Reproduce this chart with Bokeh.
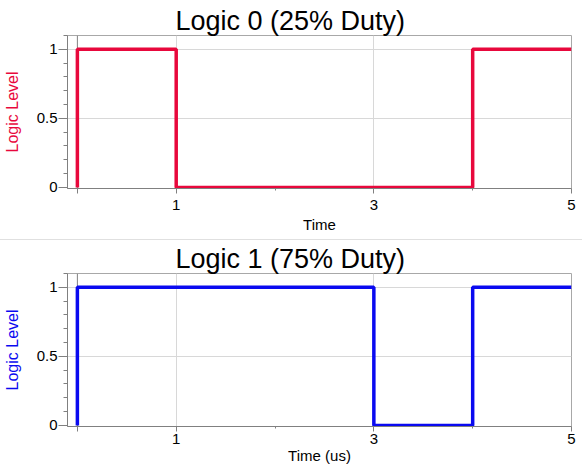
from bokeh.plotting import figure
from bokeh.layouts import column
from bokeh.models import FixedTicker, Span, Div
from bokeh.embed import file_html
from bokeh.resources import INLINE

# Data
t0 = [0, 0, 1, 1, 4, 4, 5]
v0 = [0, 1, 1, 0, 0, 1, 1]
t1 = [0, 0, 3, 3, 4, 4, 5]
v1 = [0, 1, 1, 0, 0, 1, 1]
titles = ["Logic 0 (25% Duty)", "Logic 1 (75% Duty)"]
xlabels = ["Time", "Time (us)"]
ylabel = "Logic Level"
colors = ["#e8083c", "#0a0af0"]

FONT = "Liberation Sans"


def make_fig(t, v, title, xlabel, color, height, top, bottom, tick_standoff, label_standoff):
    p = figure(width=582, height=height, output_backend="svg", toolbar_location=None,
               x_range=(-0.1, 5), y_range=(-0.008, 1.1),
               min_border_left=67, min_border_right=11,
               min_border_top=top, min_border_bottom=bottom)
    p.title.text = title
    p.title.align = "left"
    p.title.offset = 108
    p.title.text_font = FONT
    p.title.text_font_size = "27px"
    p.title.text_font_style = "normal"
    p.title.text_color = "#000000"
    p.title.standoff = 0
    p.outline_line_color = "#a8a8a8"
    p.outline_line_width = 1

    p.xaxis.ticker = FixedTicker(ticks=[0, 1, 3, 5], minor_ticks=[2, 4])
    p.xaxis.major_label_overrides = {0: ""}
    p.yaxis.ticker = FixedTicker(ticks=[0, 0.5, 1],
                                 minor_ticks=[0.1, 0.2, 0.3, 0.4, 0.6, 0.7, 0.8, 0.9, 1.1])
    p.yaxis.major_label_overrides = {0: "0", 0.5: "0.5", 1: "1"}
    for ax in (p.xaxis[0], p.yaxis[0]):
        ax.axis_line_color = "#808080"
        ax.major_tick_line_color = "#808080"
        ax.minor_tick_line_color = "#808080"
        ax.major_tick_in = 0
        ax.minor_tick_in = 0
        ax.major_label_text_font = FONT
        ax.major_label_text_font_size = "15px"
        ax.major_label_text_color = "#000000"
        ax.axis_label_text_font = FONT
        ax.axis_label_text_font_size = "15px"
        ax.axis_label_text_font_style = "normal"
    p.yaxis.axis_label_text_font_size = "16px"
    p.xaxis.major_tick_out = 5
    p.xaxis.minor_tick_out = 2
    p.yaxis.major_tick_out = 9
    p.yaxis.minor_tick_out = 4
    p.yaxis.major_label_standoff = 1
    p.xaxis.axis_label = xlabel
    p.xaxis.axis_label_text_color = "#000000"
    p.xaxis.axis_label_standoff = label_standoff
    p.xaxis.major_label_standoff = tick_standoff
    p.yaxis.axis_label = ylabel
    p.yaxis.axis_label_text_color = color
    p.yaxis.axis_label_standoff = 13

    p.xgrid.ticker = FixedTicker(ticks=[1, 3])
    p.ygrid.ticker = FixedTicker(ticks=[0.5, 1])
    p.xgrid.grid_line_color = "#d8d8d8"
    p.ygrid.grid_line_color = "#d8d8d8"
    p.add_layout(Span(location=0, dimension="height", line_color="#808080",
                      line_width=1, level="underlay"))

    p.line(t, v, line_color=color, line_width=3.5)
    return p


p1 = make_fig(t0, v0, titles[0], xlabels[0], colors[0], 239, 35, 51, 6, 3)
sep = Div(text="", width=582, height=1, margin=0, styles={"background-color": "#e0e0e0"})
p2 = make_fig(t1, v1, titles[1], xlabels[1], colors[1], 227, 33, 41, 2, 0)

layout = column(p1, sep, p2, spacing=0)
open("out.html", "w").write(file_html(layout, INLINE))
